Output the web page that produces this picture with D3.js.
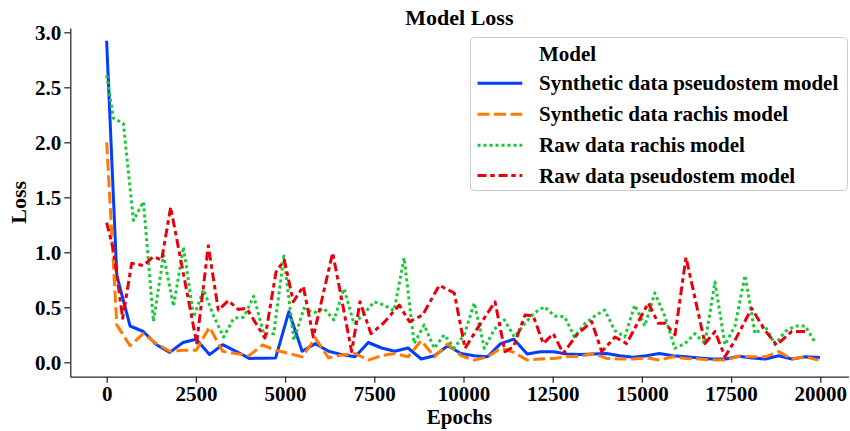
<!DOCTYPE html>
<html><head><meta charset="utf-8">
<script src="https://cdn.jsdelivr.net/npm/d3@7"></script>
<style>body{margin:0;background:#fff}svg{display:block}</style>
</head><body><svg id="c" width="850" height="431"></svg>
<script>
// ---- data ----
const synthEpochs = [0,283,654,1025,1396,1767,2138,2509,2880,3251,3622,3993,4364,4735,5106,5477,5848,6219,6590,6961,7332,7703,8074,8445,8816,9187,9558,9929,10300,10671,11042,11413,11784,12155,12526,12897,13268,13639,14010,14381,14752,15123,15494,15865,16236,16607,16978,17349,17720,18091,18462,18833,19204,19575,19946];
const synthPseudostem = [2.91,0.79,0.33,0.28,0.16,0.09,0.18,0.21,0.07,0.16,0.10,0.035,0.037,0.04,0.46,0.10,0.17,0.10,0.07,0.05,0.18,0.13,0.10,0.13,0.03,0.06,0.15,0.08,0.06,0.05,0.17,0.21,0.075,0.095,0.095,0.075,0.07,0.075,0.08,0.06,0.045,0.06,0.08,0.06,0.05,0.04,0.03,0.03,0.055,0.04,0.03,0.06,0.03,0.05,0.045];
const synthRachis = [2.0,0.34,0.15,0.26,0.17,0.10,0.11,0.11,0.32,0.10,0.08,0.06,0.157,0.11,0.08,0.05,0.22,0.04,0.066,0.08,0.02,0.06,0.08,0.05,0.197,0.05,0.167,0.06,0.02,0.05,0.127,0.09,0.02,0.03,0.035,0.05,0.055,0.08,0.035,0.03,0.03,0.04,0.02,0.05,0.035,0.03,0.02,0.02,0.055,0.05,0.05,0.097,0.03,0.05,0.02];
const rawRachisEpochs = [0,187,468,749,1030,1311,1592,1873,2154,2435,2716,2997,3278,3559,3840,4121,4402,4683,4964,5245,5526,5807,6088,6369,6650,6931,7212,7493,7774,8055,8336,8617,8898,9179,9460,9741,10022,10303,10584,10865,11146,11427,11708,11989,12270,12551,12832,13113,13394,13675,13956,14237,14518,14799,15080,15361,15642,15923,16204,16485,16766,17047,17328,17609,17890,18171,18452,18733,19014,19295,19576,19857];
const rawRachis = [2.61,2.22,2.17,1.29,1.46,0.37,0.975,0.51,1.05,0.41,0.66,0.42,0.23,0.40,0.41,0.60,0.26,0.26,0.966,0.20,0.49,0.45,0.49,0.385,0.67,0.35,0.44,0.55,0.52,0.47,0.95,0.17,0.34,0.127,0.25,0.13,0.25,0.54,0.127,0.30,0.385,0.23,0.35,0.45,0.505,0.42,0.415,0.23,0.35,0.42,0.475,0.29,0.23,0.52,0.33,0.63,0.42,0.127,0.17,0.26,0.17,0.73,0.16,0.33,0.79,0.26,0.33,0.16,0.28,0.33,0.33,0.18];
const rawPseudostemEpochs = [0,190,448,700,1026,1306,1540,1793,2522,2848,3128,3408,3688,3923,4436,4745,4978,5230,5510,5790,6334,6866,7099,7407,7753,8201,8482,8856,9322,9742,10042,10415,10883,11163,11400,11724,11957,12237,12517,12797,13173,13593,13874,14246,14573,15179,15459,15647,15928,16236,16768,17049,17329,17609,18077,18450,18777,19198,19619];
const rawPseudostem = [1.27,1.02,0.40,0.90,0.88,0.96,0.93,1.41,0.175,1.06,0.475,0.56,0.48,0.49,0.22,0.82,0.93,0.55,0.69,0.23,0.996,0.097,0.55,0.26,0.355,0.52,0.37,0.43,0.70,0.63,0.127,0.32,0.55,0.097,0.14,0.43,0.42,0.17,0.26,0.08,0.25,0.37,0.097,0.23,0.17,0.54,0.355,0.355,0.25,0.955,0.17,0.28,0.05,0.20,0.49,0.29,0.157,0.28,0.28];
const seriesNames = ["Synthetic data pseudostem model","Synthetic data rachis model","Raw data rachis model","Raw data pseudostem model"];
const seriesColors = ["#023eff","#ff7c00","#1ac938","#e8000b"];
const xTicks = [0,2500,5000,7500,10000,12500,15000,17500,20000];
const yTicks = [0.0,0.5,1.0,1.5,2.0,2.5,3.0];

// ---- chart ----
const svg = d3.select("#c");
const FONT = "'Liberation Serif','Times New Roman',serif";
const ink = "#262626";
const lw = 3;
const dashes = [null, [4*lw,1.5*lw], [1*lw,1*lw], [3*lw,1.25*lw,1.5*lw,1.25*lw]];

const x = d3.scaleLinear().domain([-1020, 20790]).range([70.3, 848.5]);
const y = d3.scaleLinear().domain([-0.131, 3.04]).range([376.7, 27.9]);

const series = [
  {name: seriesNames[0], xs: synthEpochs, ys: synthPseudostem},
  {name: seriesNames[1], xs: synthEpochs, ys: synthRachis},
  {name: seriesNames[2], xs: rawRachisEpochs, ys: rawRachis},
  {name: seriesNames[3], xs: rawPseudostemEpochs, ys: rawPseudostem}
];

const line = d3.line().x(d => x(d[0])).y(d => y(d[1]));
series.forEach((s, i) => {
  const pts = s.xs.map((e, j) => [e, s.ys[j]]);
  svg.append("path").datum(pts)
    .attr("d", line)
    .attr("fill", "none")
    .attr("stroke", seriesColors[i])
    .attr("stroke-width", lw)
    .attr("stroke-linejoin", "round")
    .attr("stroke-linecap", i === 0 ? "square" : "butt")
    .attr("stroke-dasharray", dashes[i] ? dashes[i].join(",") : null);
});

// axes
const xAxis = d3.axisBottom(x).tickValues(xTicks).tickFormat(d3.format("d")).tickSize(6).tickSizeOuter(0).tickPadding(3);
const yAxis = d3.axisLeft(y).tickValues(yTicks).tickFormat(d3.format(".1f")).tickSize(6).tickSizeOuter(0).tickPadding(3);
const gx = svg.append("g").attr("transform", "translate(0,376.7)").call(xAxis);
const gy = svg.append("g").attr("transform", "translate(70.3,0)").call(yAxis);
[gx, gy].forEach(g => {
  g.select(".domain").attr("stroke", ink).attr("stroke-width", 1.25);
  g.selectAll(".tick line").attr("stroke", ink).attr("stroke-width", 1.25);
  g.selectAll(".tick text").attr("fill", "#000").attr("font-family", FONT)
    .attr("font-weight", "bold").attr("font-size", 21);
});

// labels
svg.append("text").attr("x", 459.4).attr("y", 25).attr("text-anchor", "middle")
  .attr("font-family", FONT).attr("font-weight", "bold").attr("font-size", 22).text("Model Loss");
svg.append("text").attr("x", 459.4).attr("y", 424).attr("text-anchor", "middle")
  .attr("font-family", FONT).attr("font-weight", "bold").attr("font-size", 21).text("Epochs");
svg.append("text").attr("transform", "translate(26,202.3) rotate(-90)").attr("text-anchor", "middle")
  .attr("font-family", FONT).attr("font-weight", "bold").attr("font-size", 22).text("Loss");

// legend
const lg = svg.append("g");
lg.append("rect").attr("x", 470.5).attr("y", 37.5).attr("width", 377).attr("height", 153).attr("rx", 4)
  .attr("fill", "#fff").attr("fill-opacity", 0.8).attr("stroke", "#cccccc").attr("stroke-width", 1);
lg.append("text").attr("x", 539).attr("y", 60.5).attr("font-family", FONT).attr("font-weight", "bold")
  .attr("font-size", 21).text("Model");
const rowY = [83.2, 114.2, 145.2, 175.5];
seriesNames.forEach((n, i) => {
  lg.append("line").attr("x1", 477.5).attr("x2", 522.3).attr("y1", rowY[i]).attr("y2", rowY[i])
    .attr("stroke", seriesColors[i]).attr("stroke-width", lw)
    .attr("stroke-dasharray", dashes[i] ? dashes[i].join(",") : null);
  lg.append("text").attr("x", 539).attr("y", rowY[i] + 7).attr("font-family", FONT).attr("font-weight", "bold")
    .attr("font-size", 21).text(n);
});
</script></body></html>
